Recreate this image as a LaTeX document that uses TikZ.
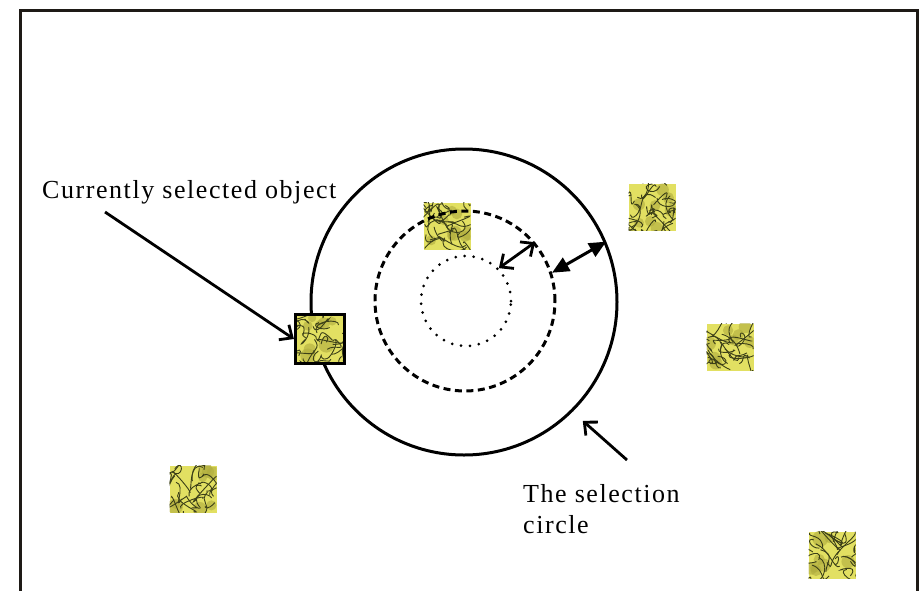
\documentclass[tikz,border=0pt]{standalone}
\usepackage{fontspec}
\setmainfont{Liberation Serif}[LetterSpace=6]
\usetikzlibrary{arrows.meta,calc}
\definecolor{texY}{RGB}{226,224,98}
\definecolor{texL}{RGB}{60,64,24}
\definecolor{texM}{RGB}{175,172,62}
\definecolor{frameC}{RGB}{30,26,22}
\begin{document}
\begin{tikzpicture}[x=1pt,y=-1pt,
  lbl/.style={font=\fontsize{26}{31}\selectfont, inner sep=0pt, anchor=base west},
  ring/.style={circle, inner sep=0pt, line width=3pt, draw},
  texsq/.style={rectangle, minimum size=47pt, inner sep=0pt, fill=texY, path picture={
     \foreach \i in {1,...,8} {\fill[texM, opacity=0.6] ($(path picture bounding box.center)+(rand*22pt,rand*22pt)$) circle[radius=4pt+4pt*rnd];}
     \foreach \i in {1,...,30} {\draw[texL, line width=0.9pt] ($(path picture bounding box.center)+(rand*26pt,rand*26pt)$) .. controls +(rand*16pt,rand*16pt) and +(rand*16pt,rand*16pt) .. +(rand*24pt,rand*24pt);}
  }},
  chev/.style={line width=2.8pt, {Straight Barb[length=10pt,width=18pt]}-{Straight Barb[length=10pt,width=18pt]}},
  tri/.style={line width=3pt, {Triangle[length=17pt,width=15pt]}-{Triangle[length=17pt,width=15pt]}},
  pointer/.style={line width=2.8pt, -{Straight Barb[length=10pt,width=18pt]}}
]
\useasboundingbox (0,0) rectangle (922,590);
\clip (0,0) rectangle (922,590);
\pgfmathsetseed{7}
\draw[frameC, line width=3pt] (20,10) rectangle (917,640);
% selection circle
\node[ring, minimum size=306pt] (big) at (464,302) {};
% objects
\node[texsq] (o2) at (447,226) {};
\node[texsq] (o3) at (652,207) {};
\node[texsq] (o4) at (730,347) {};
\node[texsq] (o5) at (193,489) {};
\node[texsq] (o6) at (832,555) {};
% inner circles
\node[circle, inner sep=0pt, minimum size=180pt, draw, line width=3pt, dash pattern=on 7pt off 4.5pt] (dashc) at (465,301) {};
\node[circle, inner sep=0pt, minimum size=90pt, draw, line width=3pt, line cap=round, dash pattern=on 0pt off 9pt] (dotc) at (466,301) {};
% selected object
\node[texsq, draw=black, line width=3.2pt, minimum size=49pt] (sel) at (320,339) {};
% labels
\node[lbl] (t1) at (42,198) {Currently selected object};
\node[lbl] (t2) at (523,502) {The selection};
\node[lbl] (t3) at (523,533) {circle};
% connectors
\coordinate (p1) at (105,212);
\draw[pointer] (p1) -- (sel.west);
\draw[chev] (dotc.45) -- (dashc.40);
\draw[tri] (dashc.18) -- (big.23);
\coordinate (p2) at (627,460);
\coordinate (p2t) at ($(big.center)+(-45:168pt)$);
\draw[pointer] (p2) -- (p2t);
\end{tikzpicture}
\end{document}
